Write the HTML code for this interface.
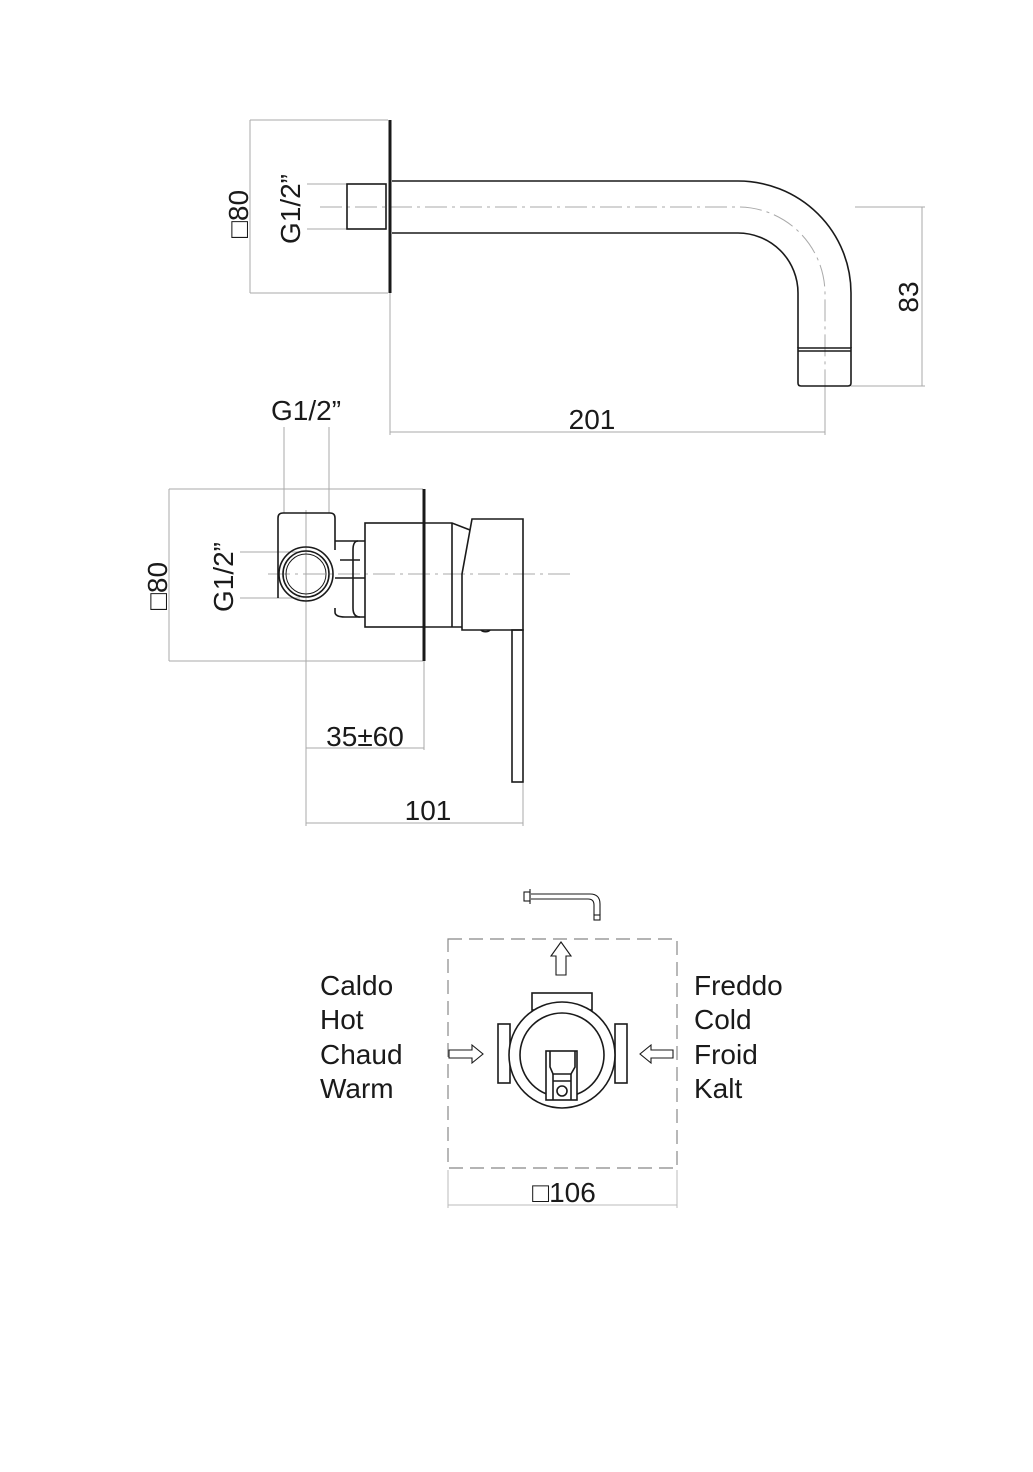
<!DOCTYPE html>
<html><head><meta charset="utf-8"><style>
html,body{margin:0;padding:0;background:#fff;}
svg{display:block;}
text{font-family:"Liberation Sans",sans-serif;font-size:28px;fill:#1a1a1a;}
</style></head><body>
<svg width="1033" height="1472" viewBox="0 0 1033 1472" xmlns="http://www.w3.org/2000/svg">
<g fill="none" stroke="#1a1a1a" stroke-width="1.6">
<g stroke="#aaa" stroke-width="1">
<line x1="250" y1="120" x2="250" y2="293"/>
<line x1="250" y1="120" x2="388" y2="120"/>
<line x1="250" y1="293" x2="388" y2="293"/>
<line x1="307" y1="184" x2="347" y2="184"/>
<line x1="307" y1="229" x2="347" y2="229"/>
<line x1="390" y1="293" x2="390" y2="435"/>
<line x1="390" y1="432" x2="825" y2="432"/>
<line x1="855" y1="207" x2="925" y2="207"/>
<line x1="851" y1="386" x2="925" y2="386"/>
<line x1="922" y1="207" x2="922" y2="386"/>
<line x1="825" y1="386" x2="825" y2="435"/>
<path d="M320 207 H738 A87 87 0 0 1 825 293 V430" stroke-dasharray="22 5 3 5"/>
</g>
<line x1="390" y1="120" x2="390" y2="293" stroke-width="3"/>
<rect x="347" y="184" width="39" height="45"/>
<path d="M392 181 H738 A113 112 0 0 1 851 293 V348"/>
<path d="M392 233 H738 A60 60 0 0 1 798 293 V348"/>
<path d="M798 348 H851 V383 Q851 386 848 386 H801 Q798 386 798 383 Z"/>
<line x1="798" y1="351" x2="851" y2="351"/>

<g stroke="#aaa" stroke-width="1">
<line x1="169" y1="489" x2="169" y2="661"/>
<line x1="169" y1="489" x2="423" y2="489"/>
<line x1="169" y1="661" x2="423" y2="661"/>
<line x1="284" y1="427" x2="284" y2="513"/>
<line x1="329" y1="427" x2="329" y2="513"/>
<line x1="240" y1="552" x2="300" y2="552"/>
<line x1="240" y1="598" x2="300" y2="598"/>
<line x1="306" y1="510" x2="306" y2="826"/>
<line x1="306" y1="748" x2="424" y2="748"/>
<line x1="424" y1="661" x2="424" y2="750"/>
<line x1="306" y1="823" x2="523" y2="823"/>
<line x1="523" y1="782" x2="523" y2="826"/>
<line x1="268" y1="574" x2="570" y2="574" stroke-dasharray="22 5 3 5"/>
</g>
<line x1="424" y1="489" x2="424" y2="661" stroke-width="3"/>
<path d="M278 598 V518 Q278 513 283 513 H330 Q335 513 335 518 V550"/>
<circle cx="306" cy="574" r="27"/>
<circle cx="306" cy="574" r="23"/>
<circle cx="306" cy="574" r="20" stroke-width="1"/>
<path d="M335 541 H365 M340 560 H360 M335 578 H365 M335 608 V612 Q335 617 345 617 H365"/>
<path d="M358 541 Q353 541 353 550 V608 Q353 617 360 617"/>
<rect x="365" y="523" width="59" height="104"/>
<path d="M424 523 H452 L470 530 M452 523 V627 H462 M424 627 H462"/>
<path d="M472 519 H523 V630 H462 V574 Z"/>
<path d="M481 630 A5 3 0 0 0 490 630"/>
<rect x="512" y="630" width="11" height="152"/>

<rect x="448" y="939" width="229" height="229" stroke="#888" stroke-width="1.2" stroke-dasharray="14 7"/>
<g stroke="#bbb" stroke-width="1">
<line x1="448" y1="1170" x2="448" y2="1208"/>
<line x1="677" y1="1170" x2="677" y2="1208"/>
<line x1="448" y1="1205" x2="677" y2="1205"/>
</g>
<g stroke-width="1.1">
<rect x="524" y="892" width="6" height="9"/>
<line x1="530" y1="889" x2="530" y2="904"/>
<path d="M531 894 H590 Q600 894 600 904 V915 M531 899 H588 Q594 899 594 905 V915"/>
<rect x="594" y="915" width="6" height="5"/>
</g>
<g stroke-width="1.1">
<path d="M556 975 V956 H551 L561 942 L571 956 H566 V975 Z"/>
<path d="M449 1050 H472 V1045 L483 1054 L472 1063 V1058 H449 Z"/>
<path d="M673 1050 H651 V1045 L640 1054 L651 1063 V1058 H673 Z"/>
</g>
<rect x="532" y="993" width="60" height="17"/>
<rect x="498" y="1024" width="12" height="59"/>
<rect x="615" y="1024" width="12" height="59"/>
<circle cx="562" cy="1055" r="53" fill="#fff"/>
<circle cx="562" cy="1055" r="42"/>
<rect x="546" y="1051" width="31" height="49" fill="#fff"/>
<path d="M550 1051 V1067 L553 1074 H571 L575 1067 V1051"/>
<line x1="553" y1="1074" x2="553" y2="1100"/>
<line x1="571" y1="1074" x2="571" y2="1100"/>
<line x1="553" y1="1081" x2="571" y2="1081"/>
<circle cx="562" cy="1091" r="5"/>
</g>

<text transform="translate(248,214) rotate(-90)" text-anchor="middle">□80</text>
<text transform="translate(300,209) rotate(-90)" text-anchor="middle">G1/2”</text>
<text transform="translate(918,297) rotate(-90)" text-anchor="middle">83</text>
<text x="592" y="429" text-anchor="middle">201</text>

<text x="306" y="420" text-anchor="middle">G1/2”</text>
<text transform="translate(167,586) rotate(-90)" text-anchor="middle">□80</text>
<text transform="translate(233,577) rotate(-90)" text-anchor="middle">G1/2”</text>
<text x="365" y="746" text-anchor="middle">35±60</text>
<text x="428" y="820" text-anchor="middle">101</text>

<text x="320" y="995">Caldo</text>
<text x="320" y="1029">Hot</text>
<text x="320" y="1064">Chaud</text>
<text x="320" y="1098">Warm</text>
<text x="694" y="995">Freddo</text>
<text x="694" y="1029">Cold</text>
<text x="694" y="1064">Froid</text>
<text x="694" y="1098">Kalt</text>
<text x="564" y="1202" text-anchor="middle">□106</text>
</svg>
</body></html>
